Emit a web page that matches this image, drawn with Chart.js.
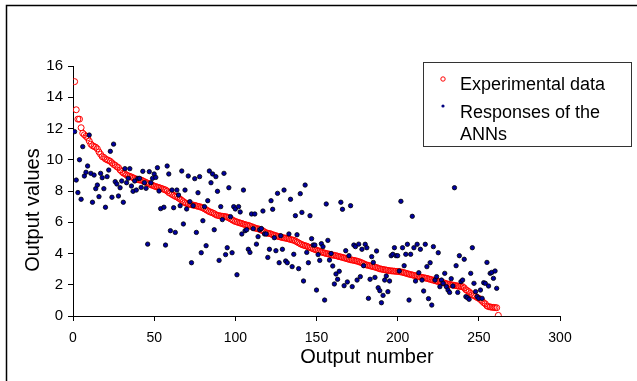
<!DOCTYPE html>
<html>
<head>
<meta charset="utf-8">
<script src="https://cdn.jsdelivr.net/npm/chart.js@4"></script>
<style>
  html, body { margin: 0; padding: 0; background: #fff; }
  #chart { display: block; }
</style>
</head>
<body>
<canvas id="chart" width="637" height="381"></canvas>
<script>
// Experimental data, output numbers 1..262
const expValues = [
  15.0, 13.2, 12.6, 12.6, 12.05, 11.7, 11.6, 11.5, 11.4, 11.2,
  11.0, 10.9, 10.85, 10.8, 10.7, 10.5, 10.35, 10.2, 10.15, 10.05,
  10.0, 9.95, 9.9, 9.8, 9.7, 9.65, 9.55, 9.5, 9.35, 9.25,
  9.15, 9.1, 9.02, 8.98, 8.93, 8.9, 8.85, 8.8, 8.75, 8.73,
  8.7, 8.7, 8.65, 8.6, 8.55, 8.5, 8.45, 8.4, 8.36, 8.32,
  8.28, 8.25, 8.22, 8.18, 8.15, 8.1, 8.07, 8.0, 7.9, 7.85,
  7.78, 7.72, 7.66, 7.62, 7.55, 7.48, 7.4, 7.32, 7.25, 7.2,
  7.17, 7.14, 7.12, 7.1, 7.08, 7.05, 7.02, 7.0, 6.96, 6.92,
  6.86, 6.8, 6.74, 6.68, 6.64, 6.6, 6.55, 6.48, 6.44, 6.42,
  6.4, 6.38, 6.37, 6.36, 6.33, 6.28, 6.22, 6.16, 6.1, 6.05,
  6.02, 5.98, 5.95, 5.92, 5.88, 5.85, 5.82, 5.8, 5.76, 5.72,
  5.68, 5.64, 5.6, 5.58, 5.55, 5.5, 5.45, 5.38, 5.32, 5.3,
  5.28, 5.25, 5.2, 5.17, 5.14, 5.1, 5.08, 5.05, 5.02, 5.0,
  4.98, 4.96, 4.93, 4.9, 4.87, 4.85, 4.8, 4.74, 4.68, 4.62,
  4.57, 4.53, 4.5, 4.47, 4.42, 4.38, 4.34, 4.3, 4.26, 4.22,
  4.18, 4.14, 4.1, 4.06, 4.03, 4.0, 3.98, 3.95, 3.92, 3.9,
  3.88, 3.86, 3.83, 3.8, 3.78, 3.75, 3.72, 3.69, 3.66, 3.63,
  3.6, 3.58, 3.56, 3.54, 3.51, 3.48, 3.44, 3.4, 3.35, 3.3,
  3.26, 3.24, 3.21, 3.18, 3.16, 3.13, 3.1, 3.06, 3.02, 3.0,
  2.98, 2.96, 2.94, 2.92, 2.9, 2.89, 2.88, 2.87, 2.86, 2.85,
  2.84, 2.82, 2.8, 2.77, 2.74, 2.71, 2.68, 2.65, 2.63, 2.6,
  2.58, 2.55, 2.52, 2.5, 2.47, 2.45, 2.43, 2.41, 2.38, 2.35,
  2.32, 2.29, 2.26, 2.23, 2.21, 2.2, 2.17, 2.14, 2.1, 2.07,
  2.04, 2.02, 2.0, 1.98, 1.96, 1.94, 1.92, 1.9, 1.89, 1.88,
  1.8, 1.68, 1.62, 1.55, 1.45, 1.36, 1.3, 1.25, 1.18, 1.13,
  1.05, 0.95, 0.85, 0.78, 0.65, 0.6, 0.58, 0.56, 0.55, 0.54,
  0.53, 0.04
];

// ANN responses, same output numbers (null = no dot read)
const annValues = [
  11.8, 8.7, 7.9, 10.0, 7.47, 10.84, 8.96, 9.2, 9.6, 11.58,
  9.13, 7.28, 9.02, 8.15, 8.38, 7.64, 9.13, 8.85, 8.15, 6.96,
  8.92, 9.34, 10.54, 7.6, 11.0, 8.6, 8.45, 7.68, 8.21, 8.64,
  7.28, 9.43, 8.53, 8.81, 9.43, 8.32, 7.98, 8.64, 8.06, 8.81,
  8.81, 8.23, 9.26, 8.53, 8.17, 4.6, 9.24, 8.53, 8.81, 9.09,
  8.87, 9.49, 8.0, 6.87, null, 6.96, 4.54, 9.6, 9.09, 5.46,
  8.06, 6.93, 5.35, 8.06, 7.74, 7.06, 9.28, 5.89, 8.06, 6.85,
  8.96, 7.32, 3.41, 7.06, 8.79, 5.35, 7.89, 8.92, 4.05, 6.1,
  7.0, 4.5, 7.38, 9.28, 8.53, 9.09, 5.52, 8.92, 7.98, 3.56,
  7.0, 6.17, 9.13, 3.93, 4.37, 8.21, 6.36, 4.05, 7.0, 6.85,
  2.64, 7.0, 6.66, 5.25, 8.06, 5.46, 5.52, 4.27, 4.07, 6.53,
  5.59, 6.53, 4.6, 5.08, 5.52, 5.6, 6.72, 5.25, 5.25, 3.75,
  4.27, 7.38, 6.83, 5.01, 4.18, 7.85, 3.41, 5.14, 4.27, 8.06,
  3.52, 3.41, 5.25, 7.47, 3.16, 3.95, 6.42, 5.2, 3.03, 7.83,
  6.63, 2.24, 8.38, 4.07, 3.41, 6.42, 4.95, 4.54, 4.54, 1.66,
  3.93, 3.56, 4.63, 4.44, 1.02, 7.17, 4.84, 3.58, 4.0, 3.2,
  2.05, 2.69, 2.35, 2.86, 7.28, 6.83, 1.94, 4.18, 2.18, 3.86,
  7.06, 1.88, 4.54, 4.44, 2.3, 4.6, 2.52, 4.27, 3.22, 4.59,
  4.37, 1.13, 2.35, 3.8, 3.43, 2.47, 4.16, 1.81, 1.62, 0.85,
  1.32, 2.3, 2.56, 1.56, 2.24, 3.86, 3.95, 4.37, 3.86, 3.86,
  2.88, 7.34, 4.37, 3.22, 3.95, 4.59, 1.02, 3.95, 6.38, 4.37,
  2.24, 4.59, 2.77, 4.27, 2.3, 1.6, 4.59, 3.16, 1.11, 3.41,
  0.7, 4.44, 2.3, 2.52, 4.05, 1.88, 2.3, 2.09, 2.73, 1.88,
  1.66, 1.51, 2.39, 1.92, 8.21, 3.22, 1.51, 3.86, 2.2, 2.3,
  3.63, 1.24, 1.17, 1.07, 2.73, 4.37, 2.09, 1.56, 1.24, 1.13,
  1.66, 1.13, 2.13, 2.09, 3.43, 1.92, 2.73, 2.79, 2.41, 2.88,
  1.77, null
];

const xTicks = [0, 50, 100, 150, 200, 250, 300];
const yTicks = [0, 2, 4, 6, 8, 10, 12, 14, 16];
const legendLabels = ['Experimental data', ['Responses of the', 'ANNs']];

const FONT = "'Liberation Sans', Arial, sans-serif";

function toPoints(values) {
    const pts = [];
    values.forEach((v, i) => {
        if (v !== null) pts.push({ x: i + 1, y: v });
    });
    return pts;
}

// frame, axis titles and the boxed legend
const decorations = {
    id: 'decorations',
    afterDraw(chart) {
        const ctx = chart.ctx;
        ctx.save();
        ctx.strokeStyle = '#000';
        ctx.lineWidth = 1.5;
        ctx.beginPath();
        ctx.moveTo(6.5, 400);
        ctx.lineTo(6.5, 5.5);
        ctx.lineTo(640, 5.5);
        ctx.stroke();

        ctx.fillStyle = '#000';
        ctx.font = '20px ' + FONT;
        ctx.textAlign = 'center';
        ctx.textBaseline = 'middle';
        ctx.fillText('Output number', 367, 357);
        ctx.save();
        ctx.translate(33, 210);
        ctx.rotate(-Math.PI / 2);
        ctx.fillText('Output values', 0, 0);
        ctx.restore();

        ctx.lineWidth = 1;
        ctx.strokeStyle = '#333';
        ctx.strokeRect(423.5, 62.5, 208, 84);

        ctx.beginPath();
        ctx.arc(443, 79, 2.2, 0, Math.PI * 2);
        ctx.strokeStyle = 'red';
        ctx.stroke();
        ctx.beginPath();
        ctx.arc(443, 106, 1.6, 0, Math.PI * 2);
        ctx.fillStyle = '#000080';
        ctx.fill();

        ctx.fillStyle = '#000';
        ctx.font = '18px ' + FONT;
        ctx.textAlign = 'left';
        ctx.fillText(legendLabels[0], 460, 85);
        ctx.fillText(legendLabels[1][0], 460, 113);
        ctx.fillText(legendLabels[1][1], 460, 135);
        ctx.restore();
    }
};

new Chart(document.getElementById('chart'), {
    type: 'scatter',
    data: {
        datasets: [
            {
                label: legendLabels[0],
                data: toPoints(expValues),
                pointStyle: 'circle',
                pointRadius: 3,
                pointBorderWidth: 1,
                pointBorderColor: 'red',
                pointBackgroundColor: 'rgba(0,0,0,0)',
                order: 1
            },
            {
                label: legendLabels[1].join(' '),
                data: toPoints(annValues),
                pointStyle: 'circle',
                pointRadius: 2.2,
                pointBorderWidth: 0.8,
                pointBorderColor: '#000',
                pointBackgroundColor: '#0000a0',
                order: 0
            }
        ]
    },
    options: {
        responsive: false,
        animation: false,
        layout: { padding: { left: 0, top: 66, right: 77, bottom: 0 } },
        plugins: {
            legend: { display: false },
            tooltip: { enabled: false }
        },
        scales: {
            x: {
                type: 'linear',
                min: xTicks[0],
                max: xTicks[xTicks.length - 1],
                afterBuildTicks: s => { s.ticks = xTicks.map(v => ({ value: v })); },
                afterFit: s => { s.height = 65; },
                grid: { display: true, drawOnChartArea: false, drawTicks: true, tickLength: 5, color: '#000' },
                border: { display: true, color: '#000', width: 1 },
                ticks: { color: '#000', font: { family: FONT, size: 14 }, padding: 9, maxRotation: 0 }
            },
            y: {
                type: 'linear',
                min: yTicks[0],
                max: yTicks[yTicks.length - 1],
                afterBuildTicks: s => { s.ticks = yTicks.map(v => ({ value: v })); },
                afterFit: s => { s.width = 73; },
                grid: { display: true, drawOnChartArea: false, drawTicks: true, tickLength: 5, color: '#000' },
                border: { display: true, color: '#000', width: 1 },
                ticks: { color: '#000', font: { family: FONT, size: 15 }, padding: 5 }
            }
        }
    },
    plugins: [decorations]
});
</script>
</body>
</html>
